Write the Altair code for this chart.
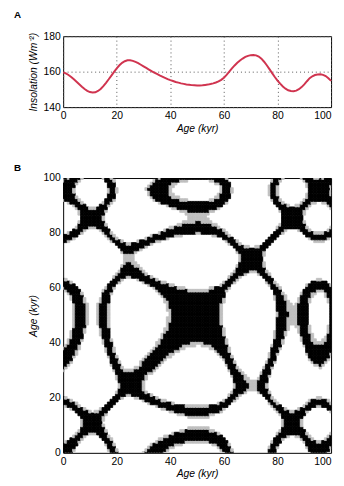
import altair as alt
import pandas as pd

# Insolation record (one value per kyr, 0..100 kyr)
ages = list(range(0, 101))
insolation = [
    159.6, 159.0, 158.1, 157.0, 155.7, 154.3, 152.9, 151.5, 150.2, 149.2,
    148.5, 148.2, 148.35, 149.1, 150.25, 151.8, 153.7, 155.7, 157.8, 159.9,
    161.9, 163.6, 165.0, 165.9, 166.4, 166.4, 166.1, 165.5, 164.8, 163.9,
    163.0, 162.1, 161.2, 160.3, 159.5, 158.7, 157.9, 157.2, 156.5, 155.8,
    155.2, 154.7, 154.2, 153.8, 153.4, 153.1, 152.8, 152.6, 152.4, 152.3,
    152.2, 152.2, 152.3, 152.5, 152.7, 153.0, 153.4, 153.9, 154.5, 155.4,
    156.6, 158.2, 160.0, 161.8, 163.5, 165.0, 166.3, 167.4, 168.3, 168.9,
    169.3, 169.4, 169.2, 168.5, 167.3, 165.6, 163.6, 161.4, 159.2, 157.0,
    155.0, 153.2, 151.6, 150.4, 149.5, 149.1, 149.0, 149.3, 150.1, 151.3,
    152.8, 154.6, 156.3, 157.4, 158.1, 158.4, 158.5, 158.2, 157.5, 156.3,
    154.8,
]
tick_values = [0, 20, 40, 60, 80, 100]
ins_ticks = [140, 160, 180]
black_eps = 2.7
gray_eps = 3.6
classes = ["near", "mid"]
class_colors = ["#000000", "#bfbfbf"]

FONT = "Liberation Sans"

line_df = pd.DataFrame({"age": ages, "ins": insolation})

rows = []
for i, a in enumerate(ages):
    for j, b in enumerate(ages):
        d = abs(insolation[i] - insolation[j])
        if d <= black_eps:
            c = "near"
        elif d <= gray_eps:
            c = "mid"
        else:
            continue
        rows.append({"x0": a - 0.5, "x1": a + 0.5, "y0": b - 0.5, "y1": b + 0.5, "cls": c})
rp_df = pd.DataFrame(rows)

last_right = {"condition": {"test": "datum.value >= 100", "value": "right"}, "value": "center"}

x_axis_common = dict(
    values=tick_values, ticks=False, domain=False, labelPadding=4,
    titlePadding=2, format="d", labelAlign=last_right,
)

W = 272

panel_a = alt.Chart(line_df).mark_line(color="#d0344f", strokeWidth=2).encode(
    x=alt.X("age:Q", scale=alt.Scale(domain=[0, 100], nice=False),
            axis=alt.Axis(title="Age (kyr)", grid=True, gridDash=[1, 3],
                          gridColor="#555555", gridOpacity=1, **x_axis_common)),
    y=alt.Y("ins:Q", scale=alt.Scale(domain=[140, 180], nice=False, zero=False),
            axis=alt.Axis(title="Insolation (Wm⁻²)", values=ins_ticks, grid=True,
                          gridDash=[1, 3], gridColor="#555555", gridOpacity=1,
                          ticks=False, domain=False, labelPadding=3, titlePadding=5)),
).properties(
    width=W, height=72,
    title=alt.TitleParams("A", anchor="start", frame="group", dx=-50, offset=3,
                          baseline="alphabetic", fontSize=10, fontWeight="bold", font=FONT),
)

color_scale = alt.Scale(domain=classes, range=class_colors)
panel_b = alt.Chart(rp_df).mark_rect(clip=True, strokeWidth=0.8).encode(
    x=alt.X("x0:Q", scale=alt.Scale(domain=[0, 100], nice=False),
            axis=alt.Axis(title="Age (kyr)", grid=False, **x_axis_common)),
    x2="x1:Q",
    y=alt.Y("y0:Q", scale=alt.Scale(domain=[0, 100], nice=False),
            axis=alt.Axis(title="Age (kyr)", values=tick_values, grid=False, ticks=False,
                          domain=False, labelPadding=3, titlePadding=5, format="d")),
    y2="y1:Q",
    color=alt.Color("cls:N", scale=color_scale, legend=None),
    stroke=alt.Stroke("cls:N", scale=color_scale, legend=None),
).properties(
    width=W, height=279,
    title=alt.TitleParams("B", anchor="start", frame="group", dx=-50, offset=-8,
                          baseline="alphabetic", fontSize=10, fontWeight="bold", font=FONT),
)

chart = alt.vconcat(panel_a, panel_b, spacing=72, bounds="flush").configure_view(
    stroke="black", strokeWidth=1, fill="white"
).configure_axis(
    labelFont=FONT, labelFontSize=10.5, labelColor="black",
    titleFont=FONT, titleFontSize=10.5, titleFontStyle="italic",
    titleFontWeight="normal", titleColor="black",
).properties(
    padding={"left": 5, "top": -2, "right": 0, "bottom": 0},
    background="white",
)

chart.save("out.html", embed_options={"renderer": "svg", "actions": False})
